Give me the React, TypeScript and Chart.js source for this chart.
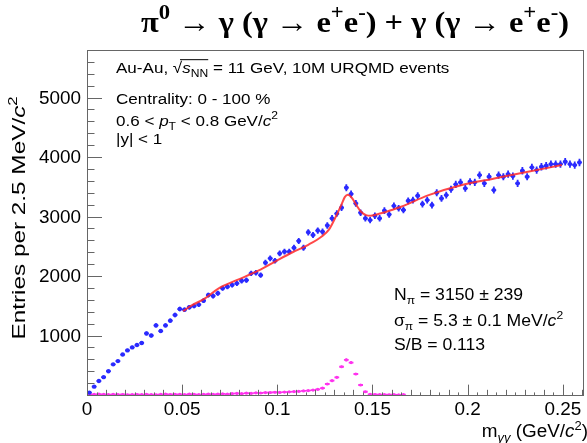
import React, { useEffect, useRef } from "react";
import { Chart, registerables } from "chart.js";

Chart.register(...registerables);

// ---------------- data ----------------
const BIN_WIDTH = 0.0025;

// blue: same-event invariant mass distribution (entries per bin)
const DATA_COUNTS = [
  40, 140, 235, 300, 400, 515, 570, 680, 750, 800,
  840, 875, 1035, 1000, 1170, 1075, 1170, 1250, 1345, 1445,
  1435, 1475, 1495, 1520, 1585, 1680, 1665, 1710, 1795, 1820,
  1850, 1877, 1920, 1930, 2045, 2055, 2015, 2225, 2297, 2257,
  2380, 2410, 2410, 2475, 2590, 2475, 2735, 2690, 2765, 2745,
  2850, 2970, 3050, 3150, 3485, 3380, 3220, 3065, 2970, 2940,
  3015, 2970, 3100, 3035, 3180, 3140, 3110, 3265, 3277, 3350,
  3210, 3277, 3193, 3400, 3305, 3361, 3457, 3541, 3575, 3474,
  3585, 3575, 3697, 3558, 3669, 3445, 3697, 3669, 3714, 3680,
  3558, 3770, 3669, 3827, 3781, 3837, 3854, 3882, 3882, 3882,
  3921, 3882, 3865, 3910,
];

// magenta: signal distribution (null = empty bin)
const SIGNAL_COUNTS: (number | null)[] = [
  8, 12, 15, 10, 6, 10, 5, 8, 4, 6,
  8, 5, 10, 6, 4, 10, 14, 8, 12, 10,
  6, 14, 9, 7, 12, 16, 11, 15, 20, 14,
  22, 26, 24, 30, 28, 36, 34, 40, 42, 46,
  44, 50, 54, 58, 62, 68, 74, 82, 95, 115,
  185, 240, 297, 475, 590, 545, 353, 168, 55, 12,
  8, 6, 5, 4, 6, 3, 5, null, null, null,
  null, null, null, null, null, null, null, null, null, null,
  null, null, null, null, null, null, null, null, null, null,
  null, null, null, null, null, null, null, null, null, null,
  null, null, null, null,
];

// red: fit curve
const FIT_X = [
  0.0505, 0.055, 0.062, 0.069, 0.079, 0.09, 0.1, 0.108, 0.1165, 0.1235,
  0.127, 0.13, 0.1337, 0.1355, 0.137, 0.139, 0.1415, 0.144, 0.1466, 0.149,
  0.1545, 0.16, 0.165, 0.1795, 0.197, 0.214, 0.231, 0.2495,
];
const FIT_Y = [
  1410, 1505, 1625, 1790, 1935, 2090, 2265, 2400, 2530, 2670,
  2775, 2950, 3200, 3330, 3365, 3320, 3195, 3080, 3025, 3015,
  3055, 3110, 3165, 3360, 3530, 3640, 3750, 3865,
];

const X_TICKS = [0, 0.05, 0.1, 0.15, 0.2, 0.25];
const X_TICK_LABELS = ["0", "0.05", "0.1", "0.15", "0.2", "0.25"];
const Y_TICKS = [1000, 2000, 3000, 4000, 5000];
const Y_TICK_LABELS = ["1000", "2000", "3000", "4000", "5000"];
const X_MINOR_STEP = 0.005;
const Y_MINOR_STEP = 200;
const X_MIN = 0;
const X_MAX = 0.2606;
const Y_MIN = 0;
const Y_MAX = 5800;

// ---------------- rich text helper ----------------
type Part = { t: string; sub?: boolean; sup?: boolean; it?: boolean; over?: boolean };

const SANS = '"Liberation Sans", Arial, Helvetica, sans-serif';
const SERIF = '"Liberation Serif", "Times New Roman", serif';

function drawRich(
  ctx: CanvasRenderingContext2D,
  parts: Part[],
  x: number,
  y: number,
  size: number,
  opts: { family?: string; weight?: string; align?: "left" | "right" | "center"; hs?: number; color?: string } = {}
) {
  const family = opts.family || SANS;
  const weight = opts.weight || "normal";
  const hs = opts.hs || 1;
  const fontFor = (p: Part) =>
    `${p.it ? "italic " : ""}${weight} ${p.sub || p.sup ? Math.round(size * 0.7) : size}px ${family}`;
  const widths = parts.map((p) => {
    ctx.font = fontFor(p);
    return ctx.measureText(p.t).width;
  });
  const total = widths.reduce((a, b) => a + b, 0) * hs;
  const align = opts.align || "left";
  const sx = align === "left" ? x : align === "right" ? x - total : x - total / 2;
  ctx.save();
  ctx.translate(sx, y);
  ctx.scale(hs, 1);
  ctx.fillStyle = opts.color || "#000";
  ctx.textAlign = "left";
  ctx.textBaseline = "alphabetic";
  let cx = 0;
  let overStart: number | null = null;
  let overEnd = 0;
  parts.forEach((p, i) => {
    ctx.font = fontFor(p);
    const dy = p.sub ? size * 0.28 : p.sup ? -size * 0.42 : 0;
    ctx.fillText(p.t, cx, dy);
    if (p.over) {
      if (overStart === null) overStart = cx;
      overEnd = cx + widths[i];
    }
    cx += widths[i];
  });
  if (overStart !== null) {
    ctx.strokeStyle = opts.color || "#000";
    ctx.lineWidth = 1;
    ctx.beginPath();
    ctx.moveTo(overStart - 2, -size * 0.86);
    ctx.lineTo(overEnd, -size * 0.86);
    ctx.stroke();
  }
  ctx.restore();
}

// ---------------- plugin ----------------
const rootPlugin = {
  id: "rootStyle",
  beforeDraw(chart: any) {
    const ctx = chart.ctx as CanvasRenderingContext2D;
    ctx.save();
    ctx.fillStyle = "#ffffff";
    ctx.fillRect(0, 0, chart.width, chart.height);
    ctx.restore();
  },
  beforeDatasetsDraw(chart: any) {
    const ctx = chart.ctx as CanvasRenderingContext2D;
    const xs = chart.scales.x;
    const ys = chart.scales.y;
    chart.data.datasets.forEach((ds: any) => {
      if (!ds.errorBars) return;
      ctx.save();
      ctx.strokeStyle = ds.borderColor;
      ctx.lineWidth = ds.errorWidth || 1.5;
      ctx.beginPath();
      ds.data.forEach((d: any) => {
        if (d == null || d.y == null) return;
        const px = xs.getPixelForValue(d.x);
        const py = ys.getPixelForValue(d.y);
        const x0 = xs.getPixelForValue(d.x - BIN_WIDTH / 2);
        const x1 = xs.getPixelForValue(d.x + BIN_WIDTH / 2);
        const e = Math.sqrt(d.y);
        const y0 = ys.getPixelForValue(Math.max(d.y - e, Y_MIN));
        const y1 = ys.getPixelForValue(d.y + e);
        ctx.moveTo(x0, py);
        ctx.lineTo(x1, py);
        ctx.moveTo(px, y0);
        ctx.lineTo(px, y1);
      });
      ctx.stroke();
      ctx.restore();
    });
  },
  afterDraw(chart: any) {
    const ctx = chart.ctx as CanvasRenderingContext2D;
    const a = chart.chartArea;
    const xs = chart.scales.x;
    const ys = chart.scales.y;
    ctx.save();
    // frame
    ctx.strokeStyle = "#666";
    ctx.lineWidth = 1;
    ctx.strokeRect(a.left + 0.5, a.top + 0.5, a.right - a.left, a.bottom - a.top);

    // x ticks (inside, pointing up)
    const xh = a.bottom - a.top;
    ctx.beginPath();
    for (let k = 0; ; k++) {
      const v = X_MIN + k * X_MINOR_STEP;
      if (v > X_MAX + 1e-9) break;
      const px = Math.round(xs.getPixelForValue(v)) + 0.5;
      const len = k % 10 === 0 ? xh * 0.03 : k % 2 === 0 ? xh * 0.015 : xh * 0.0075;
      ctx.moveTo(px, a.bottom);
      ctx.lineTo(px, a.bottom - len);
    }
    // y ticks (inside, pointing right)
    const yw = 500;
    for (let k = 0; ; k++) {
      const v = Y_MIN + k * Y_MINOR_STEP;
      if (v > Y_MAX + 1e-9) break;
      const py = Math.round(ys.getPixelForValue(v)) + 0.5;
      const len = v % 1000 === 0 ? yw * 0.03 : yw * 0.015;
      ctx.moveTo(a.left, py);
      ctx.lineTo(a.left + len, py);
    }
    ctx.stroke();

    // tick labels
    X_TICKS.forEach((v, i) => {
      const px = xs.getPixelForValue(v);
      drawRich(ctx, [{ t: X_TICK_LABELS[i] }], px, a.bottom + 20, 17.5, { align: "center", hs: 1.08 });
    });
    Y_TICKS.forEach((v, i) => {
      const py = ys.getPixelForValue(v);
      drawRich(ctx, [{ t: Y_TICK_LABELS[i] }], a.left - 6, py + 6.3, 17.5, { align: "right", hs: 1.08 });
    });

    // axis titles
    drawRich(
      ctx,
      [{ t: "m" }, { t: "γγ", sub: true, it: true }, { t: " (GeV/" }, { t: "c", it: true }, { t: "2", sup: true }, { t: ")" }],
      588, 437, 17.5, { align: "right", hs: 1.08 }
    );
    ctx.save();
    ctx.translate(25, 218);
    ctx.rotate(-Math.PI / 2);
    drawRich(
      ctx,
      [{ t: "Entries per 2.5 MeV/" }, { t: "c", it: true }, { t: "2", sup: true }],
      0, 0, 19, { align: "center", hs: 1.28 }
    );
    ctx.restore();

    // title
    drawRich(
      ctx,
      [
        { t: "π" }, { t: "0", sup: true }, { t: " → γ (γ → e" }, { t: "+", sup: true }, { t: "e" }, { t: "-", sup: true },
        { t: ") + γ (γ → e" }, { t: "+", sup: true }, { t: "e" }, { t: "-", sup: true }, { t: ")" },
      ],
      355, 32, 30, { family: SERIF, weight: "bold", align: "center", hs: 1.08 }
    );

    // annotations (top left)
    const AS = 15.5;
    const AH = 1.1;
    drawRich(
      ctx,
      [
        { t: "Au-Au, √" }, { t: "s", it: true, over: true }, { t: "NN", sub: true, over: true },
        { t: " = 11 GeV, 10M URQMD events" },
      ],
      116, 73, AS, { hs: AH }
    );
    drawRich(ctx, [{ t: "Centrality: 0 - 100 %" }], 116, 104, AS, { hs: AH });
    drawRich(
      ctx,
      [{ t: "0.6 < " }, { t: "p", it: true }, { t: "T", sub: true }, { t: " < 0.8 GeV/" }, { t: "c", it: true }, { t: "2", sup: true }],
      116, 126, AS, { hs: AH }
    );
    drawRich(ctx, [{ t: "|y| < 1" }], 116, 144, AS, { hs: AH });

    // annotations (bottom right)
    const BS = 16;
    drawRich(ctx, [{ t: "N" }, { t: "π", sub: true }, { t: " = 3150 ± 239" }], 394, 300, BS, { hs: AH });
    drawRich(
      ctx,
      [{ t: "σ" }, { t: "π", sub: true }, { t: " = 5.3 ± 0.1 MeV/" }, { t: "c", it: true }, { t: "2", sup: true }],
      394, 326, BS, { hs: AH }
    );
    drawRich(ctx, [{ t: "S/B = 0.113" }], 394, 350, BS, { hs: AH });
    ctx.restore();
  },
};

export default function App() {
  const canvasRef = useRef<HTMLCanvasElement | null>(null);

  useEffect(() => {
    document.body.style.margin = "0";
    const canvas = canvasRef.current;
    if (!canvas) return;
    const dataPts = DATA_COUNTS.map((v, i) => ({ x: (i + 0.5) * BIN_WIDTH, y: v }));
    const sigPts = SIGNAL_COUNTS.map((v, i) => ({ x: (i + 0.5) * BIN_WIDTH, y: v })).filter((p) => p.y != null);
    const fitPts = FIT_X.map((x, i) => ({ x, y: FIT_Y[i] }));

    const chart = new Chart(canvas, {
      type: "scatter",
      data: {
        datasets: [
          {
            label: "fit",
            data: fitPts,
            showLine: true,
            borderColor: "rgba(255,40,40,0.85)",
            borderWidth: 2,
            pointRadius: 0,
            cubicInterpolationMode: "monotone",
            order: 0,
          } as any,
          {
            label: "data",
            data: dataPts,
            showLine: false,
            borderColor: "#2a2aff",
            backgroundColor: "#2a2aff",
            pointRadius: 2.2,
            pointBorderWidth: 0,
            errorBars: true,
            errorWidth: 1.8,
            order: 1,
          } as any,
          {
            label: "signal",
            data: sigPts,
            showLine: false,
            borderColor: "#ff33ee",
            backgroundColor: "#ff33ee",
            pointRadius: 1.6,
            pointBorderWidth: 0,
            errorBars: true,
            errorWidth: 1.8,
            order: 2,
          } as any,
        ],
      },
      options: {
        responsive: false,
        animation: false,
        devicePixelRatio: 1,
        layout: { padding: { left: 87, top: 50, right: -3, bottom: 48 } },
        plugins: { legend: { display: false }, tooltip: { enabled: false }, title: { display: false } },
        scales: {
          x: { type: "linear", min: X_MIN, max: X_MAX, display: false },
          y: { type: "linear", min: Y_MIN, max: Y_MAX, display: false },
        },
      },
      plugins: [rootPlugin],
    });
    return () => chart.destroy();
  }, []);

  return (
    <div style={{ width: 587, height: 443, position: "relative", overflow: "hidden" }}>
      <canvas ref={canvasRef} width={587} height={443} style={{ display: "block" }} />
    </div>
  );
}
